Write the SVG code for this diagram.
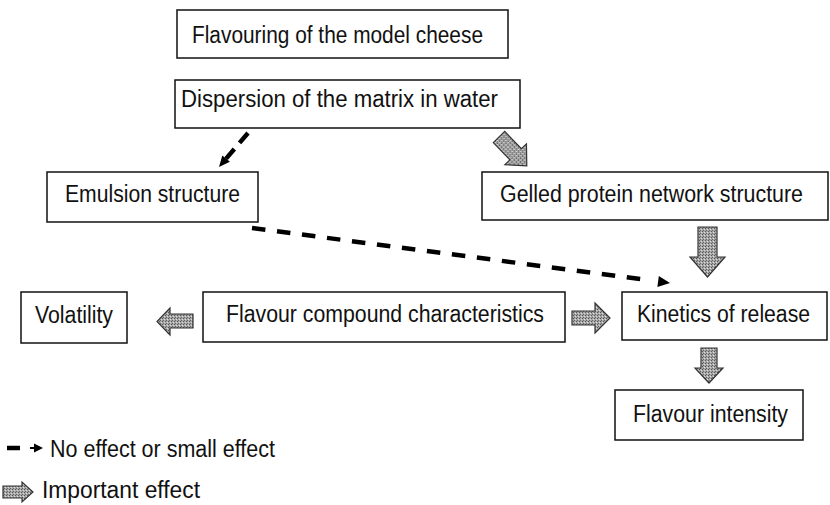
<svg xmlns="http://www.w3.org/2000/svg" width="830" height="505" viewBox="0 0 830 505">
<style>
.box{fill:#fff;stroke:#111;stroke-width:1.5}
.t{font-family:"Liberation Sans",Arial,sans-serif;font-size:23px;fill:#111}
.dash{fill:none;stroke:#000;stroke-width:4.5;stroke-dasharray:13.5 11.7}
.head{fill:#000}
.blk{fill:url(#stip);stroke:#333;stroke-width:1.2;stroke-linejoin:miter}
</style>
<defs>
<pattern id="stip" width="3" height="3" patternUnits="userSpaceOnUse">
<rect width="3" height="3" fill="#a8a8a8"/>
<rect x="0" y="0" width="1" height="1" fill="#555"/>
<rect x="2" y="1" width="1" height="1" fill="#dcdcdc"/>
<rect x="1" y="2" width="1" height="1" fill="#666"/>
</pattern>
</defs>
<g id="connectors">
<path class="dash" d="M248,133 L226.1,158.6" style="stroke-dasharray:13 8"/>
<polygon class="head" points="219,167 222.3,155.4 229.9,161.8"/>
<path class="dash" d="M252,228 L645,279.7"/>
<polygon class="head" points="670,283 657.4,286.9 658.8,275.9"/>
<polygon class="blk" transform="translate(499,137) rotate(-44)" points="-8,0 8,0 8,24 15,24 0,40 -15,24 -8,24"/>
<polygon class="blk" points="698,227 717,227 717,257 725,257 707.5,277 690,257 698,257"/>
<polygon class="blk" points="701,348 717,348 717,368 723,368 709,383 695,368 701,368"/>
<polygon class="blk" points="193,314 193,328 170,328 170,335 157,321.5 170,308 170,314"/>
<polygon class="blk" points="572,311 595,311 595,303 610,318 595,333 595,325 572,325"/>
</g>
<g id="n1"><rect class="box" x="177" y="10" width="331" height="48"/><text class="t" x="192" y="43" textLength="291" lengthAdjust="spacingAndGlyphs">Flavouring of the model cheese</text></g>
<g id="n2"><rect class="box" x="175" y="80" width="345" height="48"/><text class="t" x="181" y="107" textLength="317" lengthAdjust="spacingAndGlyphs">Dispersion of the matrix in water</text></g>
<g id="n3"><rect class="box" x="47" y="172" width="211" height="50"/><text class="t" x="65" y="202" textLength="175" lengthAdjust="spacingAndGlyphs">Emulsion structure</text></g>
<g id="n4"><rect class="box" x="482" y="172" width="346" height="48"/><text class="t" x="500" y="202" textLength="303" lengthAdjust="spacingAndGlyphs">Gelled protein network structure</text></g>
<g id="n5"><rect class="box" x="21" y="292" width="106" height="51"/><text class="t" x="35" y="323" textLength="78" lengthAdjust="spacingAndGlyphs">Volatility</text></g>
<g id="n6"><rect class="box" x="203" y="292" width="362" height="50"/><text class="t" x="226" y="322" textLength="318" lengthAdjust="spacingAndGlyphs">Flavour compound characteristics</text></g>
<g id="n7"><rect class="box" x="622" y="292" width="205" height="48"/><text class="t" x="637" y="322" textLength="173" lengthAdjust="spacingAndGlyphs">Kinetics of release</text></g>
<g id="n8"><rect class="box" x="615" y="390" width="188" height="50"/><text class="t" x="633" y="422" textLength="155" lengthAdjust="spacingAndGlyphs">Flavour intensity</text></g>
<g id="legend">
<line x1="7" y1="448" x2="20" y2="448" stroke="#000" stroke-width="4.5"/>
<line x1="30" y1="448" x2="36" y2="448" stroke="#000" stroke-width="2"/>
<polygon class="head" points="43,448 34,443.5 34,452.5"/>
<text class="t" x="50" y="457" textLength="225" lengthAdjust="spacingAndGlyphs">No effect or small effect</text>
<polygon class="blk" points="3,486 22,486 22,482 33,492 22,502 22,498 3,498"/>
<text class="t" x="42" y="498" textLength="158" lengthAdjust="spacingAndGlyphs">Important effect</text>
</g>
</svg>
